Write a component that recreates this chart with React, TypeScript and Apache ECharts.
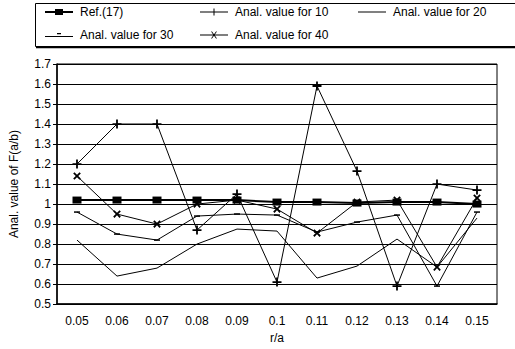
import React, { useEffect, useRef } from "react";
import * as echarts from "echarts";

const categories = ["0.05", "0.06", "0.07", "0.08", "0.09", "0.1", "0.11", "0.12", "0.13", "0.14", "0.15"];
const ref17 = [1.02, 1.02, 1.02, 1.02, 1.02, 1.01, 1.01, 1.005, 1.01, 1.01, 1.0];
const anal10 = [1.2, 1.4, 1.4, 0.87, 1.05, 0.61, 1.59, 1.165, 0.59, 1.1, 1.07];
const anal20 = [0.82, 0.64, 0.68, 0.8, 0.875, 0.865, 0.63, 0.69, 0.825, 0.685, 0.93];
const anal30 = [0.96, 0.85, 0.82, 0.94, 0.95, 0.945, 0.86, 0.91, 0.945, 0.59, 0.96];
const anal40 = [1.14, 0.95, 0.9, 1.0, 1.02, 0.975, 0.855, 1.01, 1.02, 0.685, 1.03];
const seriesNames = ["Ref.(17)", "Anal. value for 10", "Anal. value for 20", "Anal. value for 30", "Anal. value for 40"];

const PLUS = "path://M4,0H6V4H10V6H6V10H4V6H0V4H4Z";
const FONT = "Liberation Sans, Arial, sans-serif";

// legend icons: line plus marker, drawn as filled paths
const legendIcons = [
  { icon: "path://M0,2H28V4H0Z M10,0H18V6H10Z", h: 6 },
  { icon: "path://M0,3H28V4H0Z M13.5,0H14.5V7H13.5Z", h: 7 },
  { icon: "rect", h: 1 },
  { icon: "path://M0,3H28V4H0Z M12,0H16V1.3H12Z", h: 4 },
  { icon: "path://M0,3H28V4H0Z M11,0L12,0L17,7L16,7Z M16,0L17,0L12,7L11,7Z", h: 7 },
];

export default function App() {
  const ref = useRef<HTMLDivElement>(null);
  useEffect(() => {
    if (!ref.current) return;
    const chart = echarts.init(ref.current, null, { renderer: "svg" });
    const legendPos = [
      [45, 13],
      [200, 13],
      [358, 13],
      [45, 36],
      [200, 36],
    ];
    const lineStyle = { color: "#000", width: 1 };
    chart.setOption({
      animation: false,
      backgroundColor: "#fff",
      textStyle: { fontFamily: FONT },
      legend: seriesNames.map((n, i) => ({
        orient: "horizontal",
        itemWidth: 28,
        itemHeight: legendIcons[i].h,
        padding: 0,
        icon: legendIcons[i].icon,
        textStyle: { fontFamily: FONT, fontSize: 12, color: "#000", padding: [0, 0, 0, 2] },
        data: [n],
        left: legendPos[i][0],
        top: legendPos[i][1] - Math.max(legendIcons[i].h, 14) / 2,
      })),
      graphic: [
        {
          type: "rect",
          shape: { x: 35.5, y: 3.5, width: 500, height: 43 },
          style: { fill: "none", stroke: "#000", lineWidth: 1 },
          z: -1,
        },
        {
          type: "line",
          shape: { x1: 36, y1: 47.5, x2: 515, y2: 47.5 },
          style: { stroke: "#000", lineWidth: 1.5 },
        },
      ],
      grid: {
        left: 56,
        right: 18,
        top: 64,
        bottom: 39,
        show: true,
        borderColor: "#000",
        borderWidth: 1,
        backgroundColor: "#fff",
      },
      xAxis: {
        type: "category",
        data: categories,
        boundaryGap: true,
        name: "r/a",
        nameLocation: "middle",
        nameGap: 26,
        nameTextStyle: { fontFamily: FONT, fontSize: 12, color: "#000" },
        axisLine: { lineStyle: { color: "#000", width: 1.5 } },
        axisTick: { show: false },
        axisLabel: { color: "#000", fontSize: 12, fontFamily: FONT, margin: 11 },
      },
      yAxis: {
        type: "value",
        min: 0.5,
        max: 1.7,
        interval: 0.1,
        name: "Anal. value of F(a/b)",
        nameLocation: "middle",
        nameGap: 37,
        nameTextStyle: { fontFamily: FONT, fontSize: 12, color: "#000" },
        axisLine: { show: true, lineStyle: { color: "#000", width: 1.5 } },
        axisTick: { show: true, length: 4, lineStyle: { color: "#000" } },
        axisLabel: {
          color: "#000",
          fontSize: 12,
          fontFamily: FONT,
          margin: 6,
          formatter: (v: number) => String(Math.round(v * 10) / 10),
        },
        splitLine: { show: true, lineStyle: { color: "#000", width: 1.2 } },
      },
      series: [
        {
          name: seriesNames[0],
          type: "line",
          data: ref17,
          symbol: "rect",
          symbolSize: [9, 7],
          itemStyle: { color: "#000" },
          lineStyle: { color: "#000", width: 2 },
          z: 3,
        },
        {
          name: seriesNames[1],
          type: "line",
          data: anal10,
          symbol: PLUS,
          symbolSize: 9,
          itemStyle: { color: "#000" },
          lineStyle,
        },
        {
          name: seriesNames[2],
          type: "line",
          data: anal20,
          symbol: "none",
          showSymbol: false,
          itemStyle: { color: "#000" },
          lineStyle,
        },
        {
          name: seriesNames[3],
          type: "line",
          data: anal30,
          symbol: "rect",
          symbolSize: [6, 1.5],
          itemStyle: { color: "#000" },
          lineStyle,
        },
        {
          name: seriesNames[4],
          type: "line",
          data: anal40,
          symbol: PLUS,
          symbolRotate: 45,
          symbolSize: 9,
          itemStyle: { color: "#000" },
          lineStyle,
        },
      ],
    });
    return () => chart.dispose();
  }, []);
  return (
    <div
      ref={ref}
      style={{ position: "fixed", left: 0, top: 0, width: 515, height: 349, background: "#fff" }}
    />
  );
}
